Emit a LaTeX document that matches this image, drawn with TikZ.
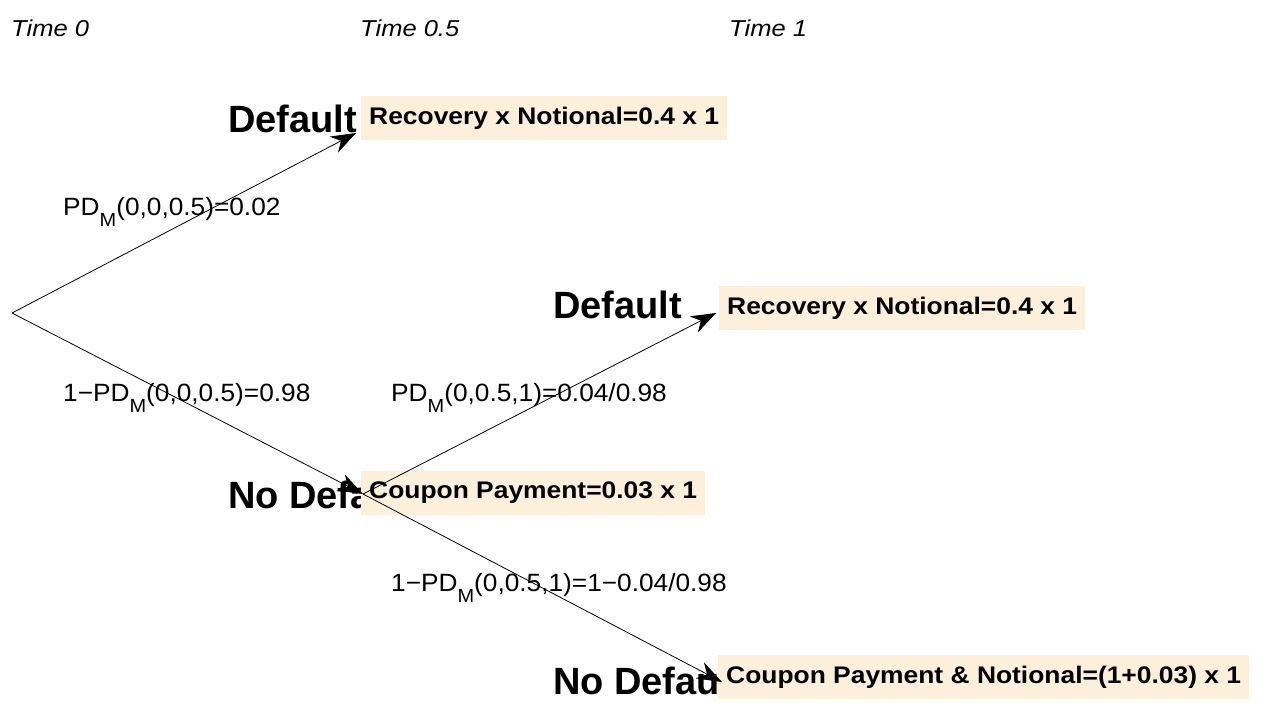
\documentclass[tikz,border=0pt]{standalone}
\usepackage{fontspec}
\setmainfont{Liberation Sans}
\newfontfamily\timefont{Liberation Sans}[FakeStretch=1.11]
\newfontfamily\probfont{Liberation Sans}[FakeStretch=1.05]
\newfontfamily\payfont{Liberation Sans}[FakeStretch=1.1]
\usetikzlibrary{arrows.meta}

\definecolor{payfill}{HTML}{FDF0DA}
\newcommand{\subM}{\raisebox{-0.45em}{\fontsize{19}{21}\selectfont M}}

\tikzset{
  timelbl/.style={anchor=base west,inner sep=0pt,font=\fontsize{23}{27}\timefont\itshape},
  statelbl/.style={anchor=base west,inner sep=0pt,font=\fontsize{38}{42}\selectfont\bfseries},
  problbl/.style={anchor=base west,inner sep=0pt,font=\fontsize{25}{29}\probfont},
  paybox/.style={anchor=west,fill=payfill,inner xsep=8pt,minimum height=44pt,
    font=\fontsize{24}{28}\payfont\bfseries},
  branch/.style={-{Stealth[length=25pt,width=18pt]},line width=0.8pt}
}

\begin{document}
\begin{tikzpicture}[x=1pt,y=-1pt]
  \useasboundingbox (0,0) rectangle (1261,702);

  % time axis
  \node[timelbl] (t0) at (11,36) {Time 0};
  \node[timelbl] (t05) at (360,36) {Time 0.5};
  \node[timelbl] (t1) at (729,36) {Time 1};

  % tree points
  \coordinate (root) at (12,313);
  \coordinate (up) at (356,133);
  \coordinate (mid) at (363,494);
  \coordinate (upup) at (716,313);
  \coordinate (down) at (722,682);

  % states
  \node[statelbl] (def1) at (228,132) {Default};
  \node[statelbl] (nodef1) at (228,508) {No Default};
  \node[statelbl] (def2) at (553,318) {Default};
  \node[statelbl] (nodef2) at (553,694) {No Default};

  % cash flows
  \node[paybox] (pay1) at (361,118) {Recovery x Notional=0.4 x 1};
  \node[paybox] (pay2) at (719,308) {Recovery x Notional=0.4 x 1};
  \node[paybox] (pay3) at (361,493) {Coupon Payment=0.03 x 1};
  \node[paybox] (pay4) at (718,677) {Coupon Payment \& Notional=(1+0.03) x 1};

  % probabilities
  \node[problbl] (p1) at (63,215) {PD\subM(0,0,0.5)=0.02};
  \node[problbl] (q1) at (63,401) {1−PD\subM(0,0,0.5)=0.98};
  \node[problbl] (p2) at (391,401) {PD\subM(0,0.5,1)=0.04/0.98};
  \node[problbl] (q2) at (391,591) {1−PD\subM(0,0.5,1)=1−0.04/0.98};

  \draw[branch] (root) -- (up);
  \draw[branch] (root) -- (mid);
  \draw[branch] (mid) -- (upup);
  \draw[branch] (mid) -- (down);
\end{tikzpicture}
\end{document}
